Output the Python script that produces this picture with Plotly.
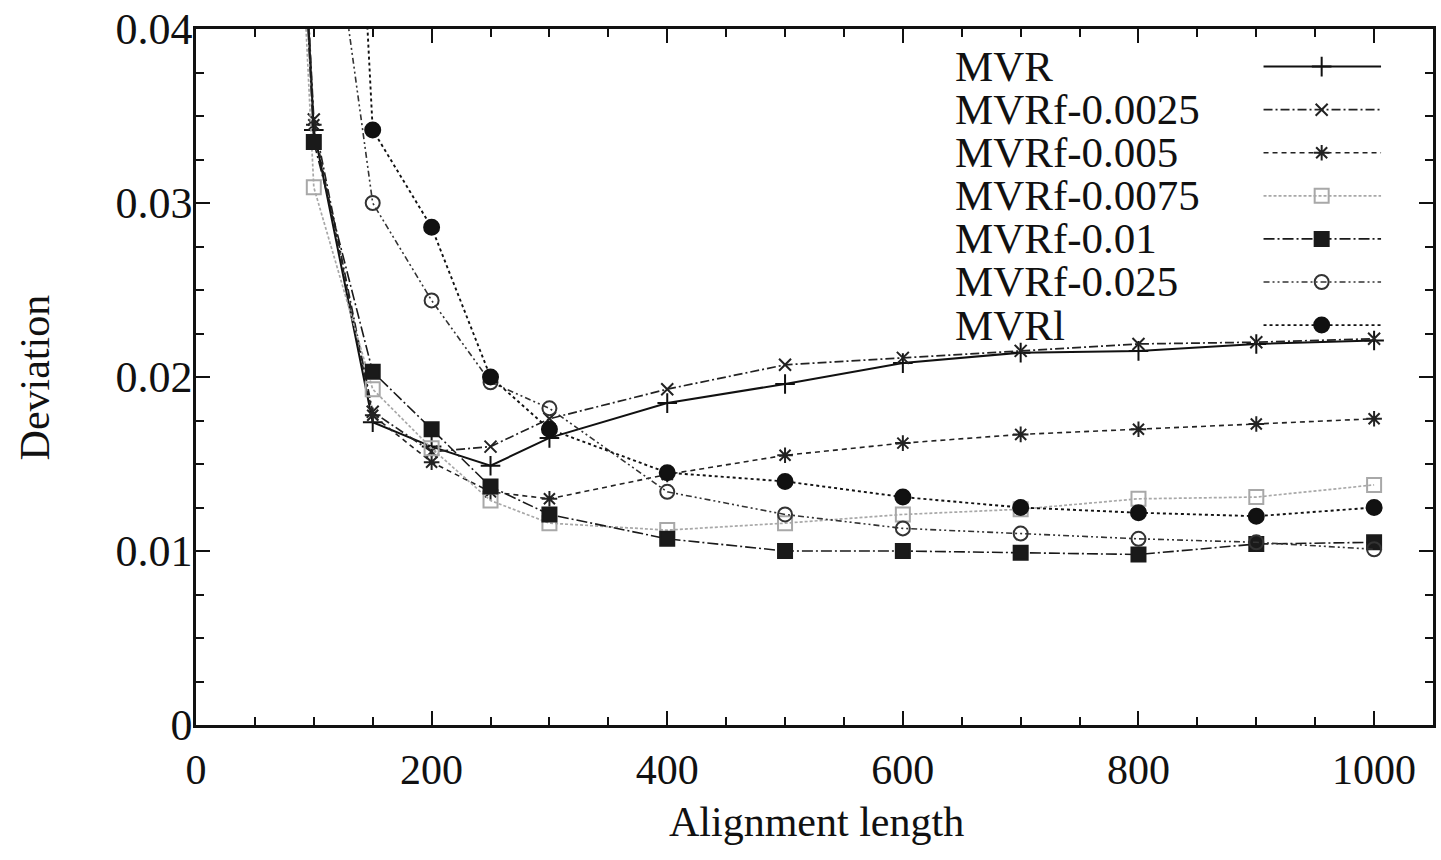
import plotly.graph_objects as go

# Alignment lengths (the first point lies above the plotted range)
lengths = [50, 100, 150, 200, 250, 300, 400, 500, 600, 700, 800, 900, 1000]

mvr       = [0.100, 0.0342, 0.0174, 0.0160, 0.0149, 0.0165, 0.0185, 0.0196, 0.0208, 0.0214, 0.0215, 0.0219, 0.0221]
mvrf_0025 = [0.100, 0.0348, 0.0180, 0.0157, 0.0160, 0.0176, 0.0193, 0.0207, 0.0211, 0.0215, 0.0219, 0.0220, 0.0222]
mvrf_005  = [0.100, 0.0345, 0.0178, 0.0151, 0.0134, 0.0130, 0.0144, 0.0155, 0.0162, 0.0167, 0.0170, 0.0173, 0.0176]
mvrf_0075 = [0.100, 0.0309, 0.0193, 0.0159, 0.0129, 0.0116, 0.0112, 0.0116, 0.0121, 0.0124, 0.0130, 0.0131, 0.0138]
mvrf_01   = [0.100, 0.0335, 0.0203, 0.0170, 0.0137, 0.0121, 0.0107, 0.0100, 0.0100, 0.0099, 0.0098, 0.0104, 0.0105]
mvrf_025  = [0.120, 0.0546, 0.0300, 0.0244, 0.0197, 0.0182, 0.0134, 0.0121, 0.0113, 0.0110, 0.0107, 0.0105, 0.0101]
mvrl      = [0.200, 0.1000, 0.0342, 0.0286, 0.0200, 0.0170, 0.0145, 0.0140, 0.0131, 0.0125, 0.0122, 0.0120, 0.0125]

names = ["MVR", "MVRf-0.0025", "MVRf-0.005", "MVRf-0.0075", "MVRf-0.01", "MVRf-0.025", "MVRl"]
series = [mvr, mvrf_0025, mvrf_005, mvrf_0075, mvrf_01, mvrf_025, mvrl]

x_ticks = [0, 200, 400, 600, 800, 1000]
y_ticks = [0, 0.01, 0.02, 0.03, 0.04]
y_tick_labels = ["0", "0.01", "0.02", "0.03", "0.04"]

styles = [
    dict(color="#111111", dash="solid",                    symbol="cross-thin-open", size=14, lw=2.0),
    dict(color="#222222", dash="9px,3px,2px,3px",          symbol="x-thin-open",     size=12, lw=1.7),
    dict(color="#222222", dash="5px,4px",                  symbol="asterisk-open",   size=13, lw=1.6),
    dict(color="#a8a8a8", dash="3px,2px",                  symbol="square-open",     size=14, lw=1.7),
    dict(color="#1a1a1a", dash="11px,3px,2px,3px",         symbol="square",          size=14, lw=1.6),
    dict(color="#333333", dash="6px,3px,2px,3px,2px,3px",  symbol="circle-open",     size=14, lw=1.6),
    dict(color="#111111", dash="3px,3px",                  symbol="circle",          size=15, lw=1.9),
]

FONT = "Liberation Serif"

fig = go.Figure()

for name, vals, st in zip(names, series, styles):
    fig.add_trace(go.Scatter(
        x=lengths, y=vals, name=name, mode="lines+markers",
        line=dict(color=st["color"], width=st["lw"], dash=st["dash"]),
        marker=dict(symbol=st["symbol"], size=st["size"], color=st["color"],
                    line=dict(color=st["color"], width=2)),
        cliponaxis=True, showlegend=False,
    ))

# Key drawn inside the frame: label on the left, line sample on the right
key_top = 0.946      # axis fraction of first row
key_step = 0.0619    # row spacing
key_x0, key_x1, key_xm = 0.863, 0.958, 0.910
annotations = []
for i, (name, st) in enumerate(zip(names, styles)):
    yk = key_top - i * key_step
    # line sample
    fig.add_trace(go.Scatter(
        x=[key_x0, key_x1], y=[yk, yk], xaxis="x2", yaxis="y2",
        mode="lines",
        line=dict(color=st["color"], width=st["lw"], dash=st["dash"]),
        showlegend=False, hoverinfo="skip",
    ))
    # marker sample
    fig.add_trace(go.Scatter(
        x=[key_xm], y=[yk], xaxis="x2", yaxis="y2",
        mode="markers",
        marker=dict(symbol=st["symbol"], size=st["size"], color=st["color"],
                    line=dict(color=st["color"], width=2)),
        showlegend=False, hoverinfo="skip",
    ))
    annotations.append(dict(
        text=name, xref="paper", yref="paper", x=0.612, y=yk,
        xanchor="left", yanchor="middle", showarrow=False,
        font=dict(family=FONT, size=43, color="#111111"),
    ))

annotations.append(dict(
    text="Deviation", xref="paper", yref="paper", x=-0.1298, y=0.5,
    textangle=-90, xanchor="center", yanchor="middle", showarrow=False,
    font=dict(family=FONT, size=42, color="#111111"),
))
annotations.append(dict(
    text="Alignment length", xref="paper", yref="paper", x=0.5016, y=-0.139,
    xanchor="center", yanchor="middle", showarrow=False,
    font=dict(family=FONT, size=42, color="#111111"),
))

axis_common = dict(
    showline=True, linecolor="#111111", linewidth=2.5, mirror="ticks",
    ticks="inside", tickcolor="#111111", tickwidth=2,
    showgrid=False, zeroline=False,
)

fig.update_layout(
    width=1441, height=860,
    margin=dict(l=196, r=5, t=25, b=135),
    paper_bgcolor="white", plot_bgcolor="white",
    showlegend=False,
    xaxis=dict(range=[0, 1050], tickvals=x_ticks, ticklen=14,
               minor=dict(dtick=50, ticks="inside", ticklen=8, tickcolor="#111111", tickwidth=1.5),
               tickfont=dict(family=FONT, size=42, color="#111111"),
               ticklabelstandoff=6, **axis_common),
    yaxis=dict(range=[0, 0.04], tickvals=y_ticks, ticktext=y_tick_labels, ticklen=14,
               minor=dict(dtick=0.0025, ticks="inside", ticklen=8, tickcolor="#111111", tickwidth=1.5),
               tickfont=dict(family=FONT, size=44, color="#111111"),
               ticklabelstandoff=-8, **axis_common),
    xaxis2=dict(range=[0, 1], overlaying="x", visible=False),
    yaxis2=dict(range=[0, 1], overlaying="y", visible=False),
    annotations=annotations,
)

fig.write_html("out.html")
